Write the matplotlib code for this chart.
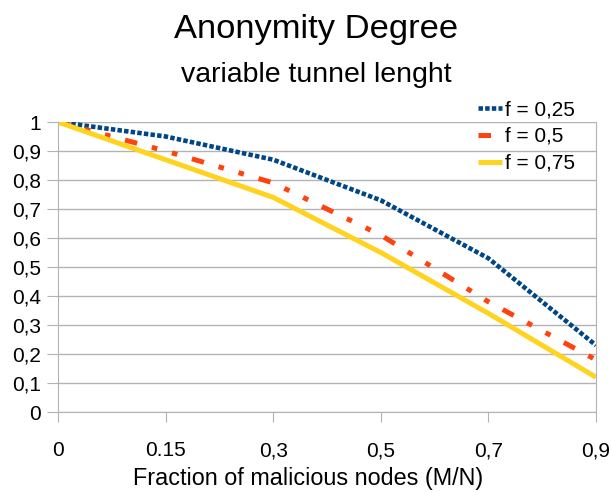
import matplotlib
matplotlib.use("Agg")
import matplotlib.pyplot as plt

plt.rcParams['font.family'] = ['Liberation Sans', 'DejaVu Sans']
plt.rcParams['lines.scale_dashes'] = False

# Datos
x_labels = ['0', '0.15', '0,3', '0,5', '0,7', '0,9']
f_025 = [1.0, 0.95, 0.87, 0.73, 0.53, 0.23]
f_05 = [1.0, 0.90, 0.79, 0.61, 0.38, 0.18]
f_075 = [1.0, 0.87, 0.74, 0.55, 0.34, 0.12]
series_names = ['f = 0,25', 'f = 0,5', 'f = 0,75']
y_ticks = [0, 0.1, 0.2, 0.3, 0.4, 0.5, 0.6, 0.7, 0.8, 0.9, 1.0]

W, H = 611, 492
grid_col = '#b3b3b3'

fig = plt.figure(figsize=(W / 100, H / 100), dpi=100)
ax = fig.add_axes([58 / W, 1 - 412 / H, 538 / W, 290 / H])

ax.plot(x_labels, f_025, color='#004586', linewidth=3.3,
        dashes=(3.2, 1.6), dash_capstyle='butt', label=series_names[0])
ax.plot(x_labels, f_05, color='#ff420e', linewidth=3.6,
        dashes=(9, 11, 4, 11, 4, 11), dash_capstyle='butt', label=series_names[1])
ax.plot(x_labels, f_075, color='#ffd320', linewidth=3.6,
        solid_capstyle='butt', label=series_names[2])

ax.set_xlim(0, len(x_labels) - 1)
ax.set_ylim(0, 1)
ax.set_yticks(y_ticks)
ax.set_yticklabels([('%g' % v).replace('.', ',') for v in y_ticks])
ax.yaxis.grid(True, color=grid_col, linewidth=1)
ax.set_axisbelow(True)

for side in ['left', 'bottom', 'right']:
    ax.spines[side].set_color(grid_col)
ax.spines['top'].set_visible(False)

ax.tick_params(axis='x', length=7.5, color=grid_col, labelsize=15, pad=13.5)
ax.tick_params(axis='y', length=8, color=grid_col, labelsize=15, pad=4)

# Títulos y etiqueta del eje
fig.text(316 / W, 1 - 38 / H, 'Anonymity Degree', ha='center', va='baseline', fontsize=24.8)
fig.text(316 / W, 1 - 82 / H, 'variable tunnel lenght', ha='center', va='baseline', fontsize=20.5)
fig.text(308 / W, 1 - 485 / H, 'Fraction of malicious nodes (M/N)',
         ha='center', va='baseline', fontsize=16.8)

leg = fig.legend(loc='upper left', bbox_to_anchor=(478 / W, 1 - 100 / H), frameon=False,
                 fontsize=15, handlelength=1.15, handletextpad=0.15,
                 labelspacing=0.38, borderpad=0, borderaxespad=0)

fig.savefig('out.png', dpi=100)
